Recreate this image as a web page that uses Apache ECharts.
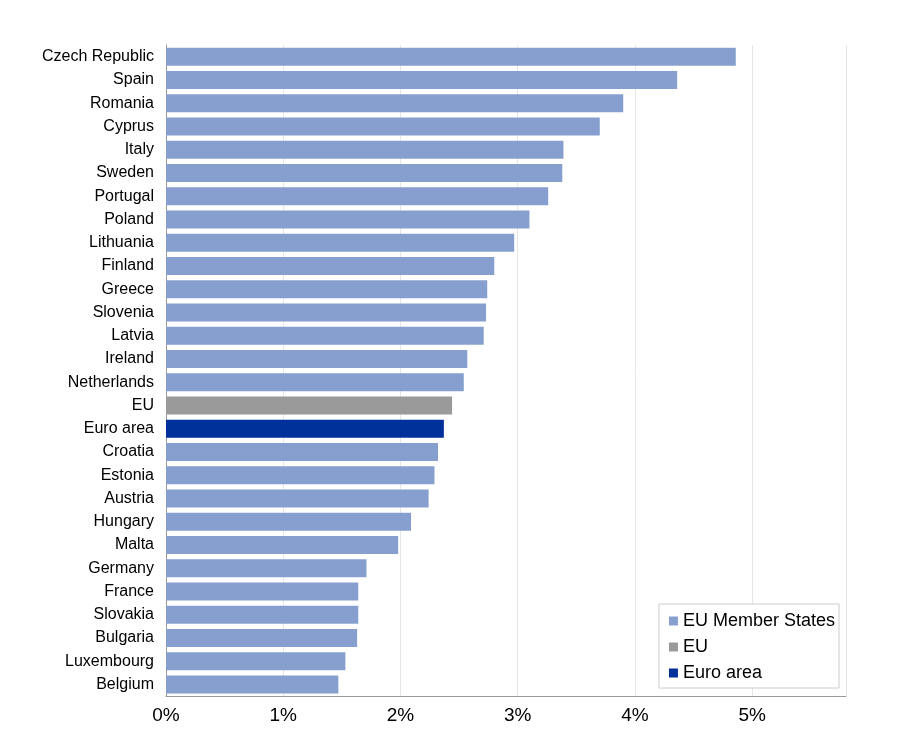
<!DOCTYPE html>
<html><head><meta charset="utf-8">
<script src="https://cdn.jsdelivr.net/npm/echarts@6/dist/echarts.min.js"></script>
<style>html,body{margin:0;padding:0;background:#fff}#c{width:908px;height:742px}</style>
</head><body><div id="c"></div>
<script>
const countries = ['Czech Republic','Spain','Romania','Cyprus','Italy','Sweden','Portugal','Poland','Lithuania','Finland','Greece','Slovenia','Latvia','Ireland','Netherlands','EU','Euro area','Croatia','Estonia','Austria','Hungary','Malta','Germany','France','Slovakia','Bulgaria','Luxembourg','Belgium'];
const values = [4.86,4.36,3.90,3.70,3.39,3.38,3.26,3.10,2.97,2.80,2.74,2.73,2.71,2.57,2.54,2.44,2.37,2.32,2.29,2.24,2.09,1.98,1.71,1.64,1.64,1.63,1.53,1.47];
const xTicks = ['0%','1%','2%','3%','4%','5%'];

const pick = (fn) => values.map((v, i) => fn(countries[i]) ? v : null);
const member = pick(c => c !== 'EU' && c !== 'Euro area');
const eu = pick(c => c === 'EU');
const ea = pick(c => c === 'Euro area');

let chart = echarts.init(document.getElementById('c'));
const bar = (name, data, color) => ({
  name: name, type: 'bar', stack: 'all', data: data, barWidth: 18,
  itemStyle: { color: color }
});
chart.setOption({
  animation: false,
  textStyle: { fontFamily: 'Liberation Sans, Arial, sans-serif' },
  grid: { left: 166, right: 62, top: 45, bottom: 46 },
  legend: {
    orient: 'vertical', right: 69, bottom: 54, backgroundColor: '#fff',
    borderColor: '#ccc', borderWidth: 1, padding: [8, 4, 6, 10], itemGap: 8,
    icon: 'rect', itemWidth: 9, itemHeight: 9,
    textStyle: { fontSize: 18, color: '#000' },
    data: ['EU Member States', 'EU', 'Euro area']
  },
  xAxis: {
    type: 'value', min: 0, max: 5.8, interval: 1,
    axisLine: { show: true, lineStyle: { color: '#999' } },
    axisTick: { show: false },
    splitLine: { lineStyle: { color: '#e6e6e6' } },
    axisLabel: {
      fontSize: 19, color: '#000', margin: 10, showMaxLabel: false,
      formatter: v => xTicks[Math.round(v)] || ''
    }
  },
  yAxis: {
    type: 'category', inverse: true, data: countries,
    axisLine: { show: true, lineStyle: { color: '#999' } },
    axisTick: { show: false },
    axisLabel: { fontSize: 16, color: '#000', margin: 12 }
  },
  series: [
    bar('EU Member States', member, '#879fcf'),
    bar('EU', eu, '#9a9a9a'),
    bar('Euro area', ea, '#00309a')
  ]
});
</script></body></html>
